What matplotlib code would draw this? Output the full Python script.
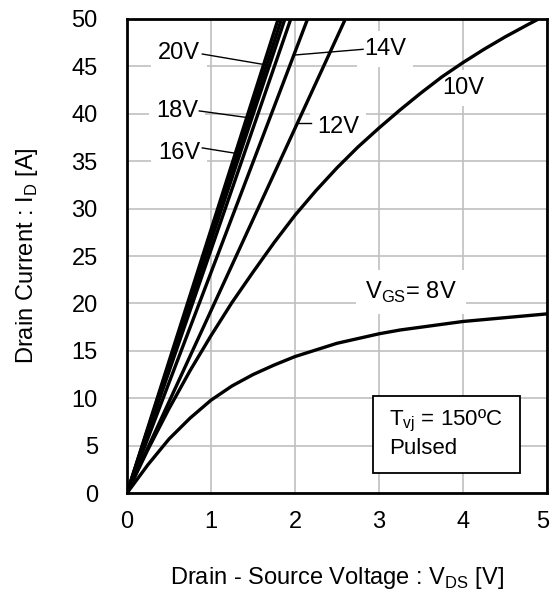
import matplotlib
matplotlib.use("Agg")
import matplotlib.pyplot as plt
import matplotlib.transforms as mtransforms
from matplotlib.patches import Rectangle

plt.rcParams['font.family'] = ['Liberation Sans', 'DejaVu Sans']
plt.rcParams['mathtext.fontset'] = 'custom'
plt.rcParams['mathtext.rm'] = 'Liberation Sans'

# ---- data ----
vds_20V = [0, 1.80]
id_20V = [0, 50]
vds_18V = [0, 1.84]
id_18V = [0, 50]
vds_16V = [0, 1.88]
id_16V = [0, 50]
vds_unlabeled = [0, 1.95]
id_unlabeled = [0, 50]
vds_14V = [0, 2.15]
id_14V = [0, 50]
vds_12V = [0, 2.60]
id_12V = [0, 50]
vds_10V = [0, 0.25, 0.5, 0.75, 1.0, 1.25, 1.5, 1.75, 2.0, 2.25, 2.5, 2.75,
           3.0, 3.25, 3.5, 3.75, 4.0, 4.25, 4.5, 4.75, 4.9]
id_10V = [0, 4.6, 8.9, 12.9, 16.6, 20.1, 23.3, 26.4, 29.3, 31.9, 34.3, 36.5,
          38.5, 40.4, 42.2, 43.9, 45.4, 46.8, 48.1, 49.3, 50]
vds_8V = [0, 0.25, 0.5, 0.75, 1.0, 1.25, 1.5, 1.75, 2.0, 2.25, 2.5, 2.75,
          3.0, 3.25, 3.5, 3.75, 4.0, 4.25, 4.5, 4.75, 5.0]
id_8V = [0, 3.0, 5.7, 7.9, 9.8, 11.3, 12.5, 13.5, 14.4, 15.1, 15.8, 16.3,
         16.8, 17.2, 17.5, 17.8, 18.1, 18.3, 18.5, 18.7, 18.9]

x_ticks = [0, 1, 2, 3, 4, 5]
y_ticks = [0, 5, 10, 15, 20, 25, 30, 35, 40, 45, 50]

curves = [
    (vds_20V, id_20V), (vds_18V, id_18V), (vds_16V, id_16V),
    (vds_unlabeled, id_unlabeled), (vds_14V, id_14V), (vds_12V, id_12V),
    (vds_10V, id_10V), (vds_8V, id_8V),
]

FS = 17

fig = plt.figure(figsize=(5.52, 5.92), dpi=100)
ax = fig.add_axes([0.230, 0.167, 0.761, 0.801])

for xs, ys in curves:
    ax.plot(xs, ys, color='black', lw=2.4, zorder=3, solid_capstyle='butt',
            solid_joinstyle='round')

ax.set_xlim(0, 5)
ax.set_ylim(0, 50)
ax.set_xticks(x_ticks)
ax.set_yticks(y_ticks)
ax.grid(True, color='#c0c0c0', lw=1.2, zorder=0)
ax.set_axisbelow(True)
ax.tick_params(length=0, labelsize=FS)
ax.tick_params(axis='y', pad=21)
ax.tick_params(axis='x', pad=13)
for s in ax.spines.values():
    s.set_linewidth(2.0)
    s.set_zorder(5)

# keep the last x tick label inside the canvas
last = ax.get_xticklabels()[-1]
last.set_transform(last.get_transform() +
                   mtransforms.ScaledTranslation(-4 / 100, 0, fig.dpi_scale_trans))

ax.set_xlabel(r'Drain - Source Voltage : V$_\mathregular{DS}$ [V]', fontsize=FS, labelpad=23)
ax.set_ylabel(r'Drain Current : I$_\mathregular{D}$ [A]', fontsize=FS, labelpad=23)

bb = dict(boxstyle='square,pad=0.3', fc='white', ec='none')
lw_lead = 1.0
# leader lines
ax.plot([0.897, 1.627], [46.3, 45.2], color='black', lw=lw_lead, zorder=4)
ax.plot([0.861, 1.435], [40.3, 39.6], color='black', lw=lw_lead, zorder=4)
ax.plot([0.897, 1.316], [36.4, 35.8], color='black', lw=lw_lead, zorder=4)
ax.plot([2.00, 2.81], [46.2, 46.8], color='black', lw=lw_lead, zorder=4)
ax.plot([2.03, 2.19], [39.05, 39.05], color='black', lw=lw_lead, zorder=4)

ax.text(0.62, 46.4, '20V', fontsize=FS, ha='center', va='center', bbox=bb, zorder=2)
ax.text(0.60, 40.3, '18V', fontsize=FS, ha='center', va='center', bbox=bb, zorder=2)
ax.text(0.62, 35.9, '16V', fontsize=FS, ha='center', va='center', bbox=bb, zorder=2)
ax.text(3.07, 46.8, '14V', fontsize=FS, ha='center', va='center', bbox=bb, zorder=2)
ax.text(2.51, 38.6, '12V', fontsize=FS, ha='center', va='center', bbox=bb, zorder=2)
ax.text(4.00, 42.7, '10V', fontsize=FS, ha='center', va='center', bbox=bb, zorder=2)
ax.text(3.38, 21.2, r'V$_\mathregular{GS}$= 8V', fontsize=FS, ha='center', va='center',
        bbox=dict(boxstyle='square,pad=0.4', fc='white', ec='none'), zorder=2)

ax.add_patch(Rectangle((2.93, 2.1), 1.75, 8.1, fc='white', ec='black', lw=1.3, zorder=4))
ax.text(3.12, 7.6, r'T$_\mathregular{vj}$ = 150ºC', fontsize=16, ha='left', va='center', zorder=5)
ax.text(3.12, 4.7, 'Pulsed', fontsize=16, ha='left', va='center', zorder=5)

fig.savefig('out.png', dpi=100)
